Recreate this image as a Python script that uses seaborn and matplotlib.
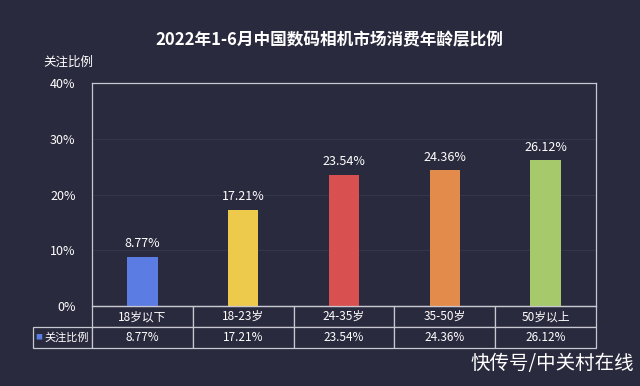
import matplotlib
matplotlib.use('Agg')
import matplotlib.pyplot as plt
import seaborn as sns
import pandas as pd

# chart data
categories = ['18岁以下', '18-23岁', '24-35岁', '35-50岁', '50岁以上']
values = [8.77, 17.21, 23.54, 24.36, 26.12]
bar_colors = ['#5b7ce3', '#edc94c', '#d8504f', '#e38b4a', '#a5c96b']
y_ticks = [0, 10, 20, 30, 40]
series_name = '关注比例'

bg = '#2a2a3e'
fg = '#ffffff'

sns.set_theme(style='dark')
plt.rcParams['font.family'] = ['Noto Sans CJK SC', 'DejaVu Sans']

df = pd.DataFrame({'age': categories, 'value': values})

fig = plt.figure(figsize=(6.4, 3.86), dpi=100, facecolor=bg)
ax = fig.add_axes([0.144, 0.207, 0.787, 0.578])
ax.set_facecolor(bg)

sns.barplot(data=df, x='age', y='value', hue='age', palette=bar_colors,
            width=0.3, legend=False, ax=ax, saturation=1, linewidth=0)

ax.set_ylim(0, 40)
ax.set_yticks(y_ticks)
ax.set_yticklabels([f'{t}%' for t in y_ticks], color=fg, fontsize=9)
ax.set_xticks([])
ax.set_xlabel('')
ax.set_ylabel('')
ax.tick_params(axis='y', length=0, pad=12)
for t in y_ticks[1:-1]:
    ax.axhline(t, color='#34344a', lw=0.8, zorder=0)
for s in ax.spines.values():
    s.set_visible(True)
    s.set_color('#c8c8d0')
    s.set_linewidth(0.9)

for i, v in enumerate(values):
    ax.text(i, v + 1.2, f'{v:.2f}%', ha='center', va='bottom', color=fg, fontsize=9)

# data table below the axes
cell_text = [[''] + categories, [''] + [f'{v:.2f}%' for v in values]]
first_w = 0.117
col_w = [first_w] + [1.0 / len(categories)] * len(categories)
tbl = ax.table(cellText=cell_text, colWidths=col_w, cellLoc='center',
               bbox=[-first_w, -0.19, 1 + first_w, 0.19])
tbl.auto_set_font_size(False)
for (r, c), cell in tbl.get_celld().items():
    cell.set_facecolor(bg)
    cell.set_edgecolor('#c8c8d0')
    cell.set_linewidth(0.9)
    cell.get_text().set_color(fg)
    cell.get_text().set_fontsize(8.5)
    if r == 0 and c == 0:
        cell.visible_edges = ''

# row label with legend key
ax.text(-first_w + 0.004, -0.142, '■', transform=ax.transAxes, color=bar_colors[0],
        fontsize=5, ha='left', va='center')
ax.text(-0.006, -0.142, series_name, transform=ax.transAxes, color=fg,
        fontsize=8, ha='right', va='center')

fig.text(0.515, 0.895, '2022年1-6月中国数码相机市场消费年龄层比例', ha='center',
         va='center', color=fg, fontsize=12, fontweight='bold')
fig.text(0.107, 0.84, series_name, ha='center', va='center', color=fg, fontsize=9)
fig.text(0.99, 0.03, '快传号/中关村在线', ha='right', va='bottom', color=fg, fontsize=14)

fig.savefig('out.png', dpi=100, facecolor=bg)
